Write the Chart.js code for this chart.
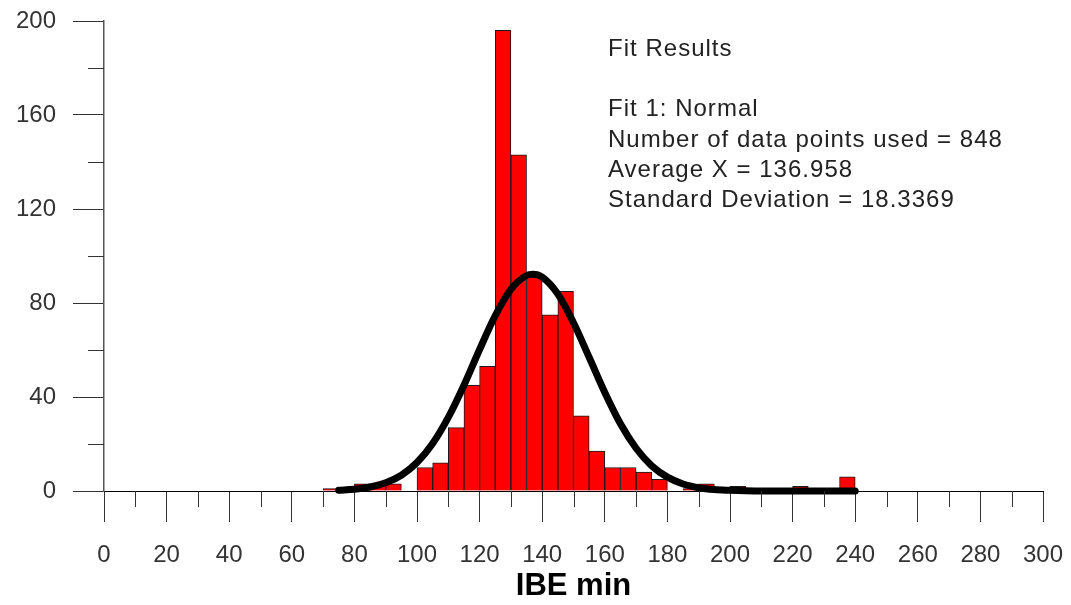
<!DOCTYPE html>
<html>
<head>
<meta charset="utf-8">
<script src="https://cdn.jsdelivr.net/npm/chart.js@4.4.0/dist/chart.umd.min.js"></script>
<style>
html, body { margin: 0; padding: 0; background: #fff; }
#wrap { width: 1071px; height: 605px; }
</style>
</head>
<body>
<div id="wrap"><canvas id="histChart" width="1071" height="605"></canvas></div>
<script>
// histogram bins: left edge of each 5-minute bin and its count
const binWidth = 5;
const binStarts = [70, 75, 80, 85, 90, 95, 100, 105, 110, 115, 120, 125, 130, 135, 140, 145, 150, 155,
                   160, 165, 170, 175, 180, 185, 190, 195, 200, 205, 210, 215, 220, 225, 230, 235];
const binCounts = [1, 0, 3, 3, 3, 0, 10, 12, 27, 45, 53, 196, 143, 91, 75, 85, 32, 17,
                   10, 10, 8, 5, 0, 1, 3, 0, 2, 0, 0, 0, 2, 0, 0, 6];

// normal fit curve
const fitX = [75, 80, 85, 90, 95, 100, 105, 110, 115, 120, 125, 130, 135, 137, 140, 145, 150, 155,
              160, 165, 170, 175, 180, 185, 190, 195, 200, 205, 210, 220, 230, 240];
const fitY = [0.3, 0.7, 1.7, 3.5, 6.7, 12.1, 20.2, 31.3, 45.0, 60.2, 74.6, 85.8, 91.7, 92.2, 91.0, 83.8, 71.6, 56.9,
              41.9, 28.6, 18.2, 10.7, 5.9, 3.0, 1.4, 0.6, 0.3, 0.1, 0, 0, 0, 0];

// axis ticks
const xMajorStep = 20;
const yMajorStep = 40;
const xMinorTicks = [10, 30, 50, 70, 90, 110, 130, 150, 170, 190, 210, 230, 250, 270, 290];
const yMinorTicks = [20, 60, 100, 140, 180];

const fitText = ['Fit Results', '', 'Fit 1: Normal', 'Number of data points used = 848',
                 'Average X = 136.958', 'Standard Deviation = 18.3369'];

const FONT = "'Liberation Sans', Arial, sans-serif";

const barData = binStarts.map((s, i) => ({ x: s + binWidth / 2, y: binCounts[i] }));
const lineData = fitX.map((v, i) => ({ x: v, y: fitY[i] }));

const extrasPlugin = {
    id: 'extras',
    afterDraw(chart) {
        const ctx = chart.ctx;
        const x = chart.scales.x, y = chart.scales.y;
        ctx.save();
        // minor ticks
        ctx.strokeStyle = '#333';
        ctx.lineWidth = 1;
        ctx.beginPath();
        xMinorTicks.forEach(v => {
            const px = Math.round(x.getPixelForValue(v)) + 0.5;
            ctx.moveTo(px, y.bottom);
            ctx.lineTo(px, y.bottom + 16);
        });
        yMinorTicks.forEach(v => {
            const py = Math.round(y.getPixelForValue(v)) + 0.5;
            ctx.moveTo(x.left - 16, py);
            ctx.lineTo(x.left, py);
        });
        ctx.stroke();

        // fit results block
        ctx.fillStyle = '#222';
        ctx.font = '24px ' + FONT;
        ctx.textAlign = 'left';
        ctx.textBaseline = 'alphabetic';
        const w = ctx.measureText(fitText[3]).width;
        const spacing = Math.max(0, (395 - w) / fitText[3].length);
        if('letterSpacing' in ctx) ctx.letterSpacing = spacing.toFixed(2) + 'px';
        fitText.forEach((t, i) => {
            if(t) ctx.fillText(t, 608, 56 + i * 30.2);
        });
        ctx.restore();
    }
};

const ctx = document.getElementById('histChart').getContext('2d');
new Chart(ctx, {
    data: {
        datasets: [
            {
                type: 'line',
                data: lineData,
                borderColor: '#000',
                borderWidth: 7,
                borderCapStyle: 'round',
                borderJoinStyle: 'round',
                pointRadius: 0,
                cubicInterpolationMode: 'monotone',
                fill: false,
                clip: false,
                order: 0
            },
            {
                type: 'bar',
                data: barData,
                backgroundColor: '#ff0000',
                borderColor: '#1a1a1a',
                borderWidth: 1,
                barPercentage: 1,
                categoryPercentage: 1,
                order: 1
            }
        ]
    },
    options: {
        responsive: false,
        animation: false,
        layout: { padding: { top: 21, right: 28, left: 0, bottom: 0 } },
        plugins: { legend: { display: false }, tooltip: { enabled: false } },
        scales: {
            x: {
                type: 'linear',
                min: 0,
                max: 300,
                offset: false,
                afterFit: (s) => { s.height = 114; s.paddingLeft = 0; s.paddingRight = 0; },
                ticks: { stepSize: xMajorStep, padding: 19, color: '#333', font: { family: FONT, size: 24 }, maxRotation: 0 },
                grid: { display: true, offset: false, drawOnChartArea: false, drawTicks: true, tickLength: 31, tickColor: '#333', tickWidth: 1 },
                border: { display: true, color: '#000', width: 1 },
                title: { display: true, text: 'IBE min', color: '#000', font: { family: FONT, size: 31, weight: 'bold' }, padding: { top: 0, bottom: 0 } }
            },
            y: {
                min: 0,
                max: 200,
                afterFit: (s) => { s.width = 104; s.paddingTop = 0; s.paddingBottom = 0; },
                ticks: { stepSize: yMajorStep, padding: 17, color: '#333', font: { family: FONT, size: 24 } },
                grid: { display: true, drawOnChartArea: false, drawTicks: true, tickLength: 31, tickColor: '#333', tickWidth: 1 },
                border: { display: true, color: '#555', width: 1.5 }
            }
        }
    },
    plugins: [extrasPlugin]
});
</script>
</body>
</html>
